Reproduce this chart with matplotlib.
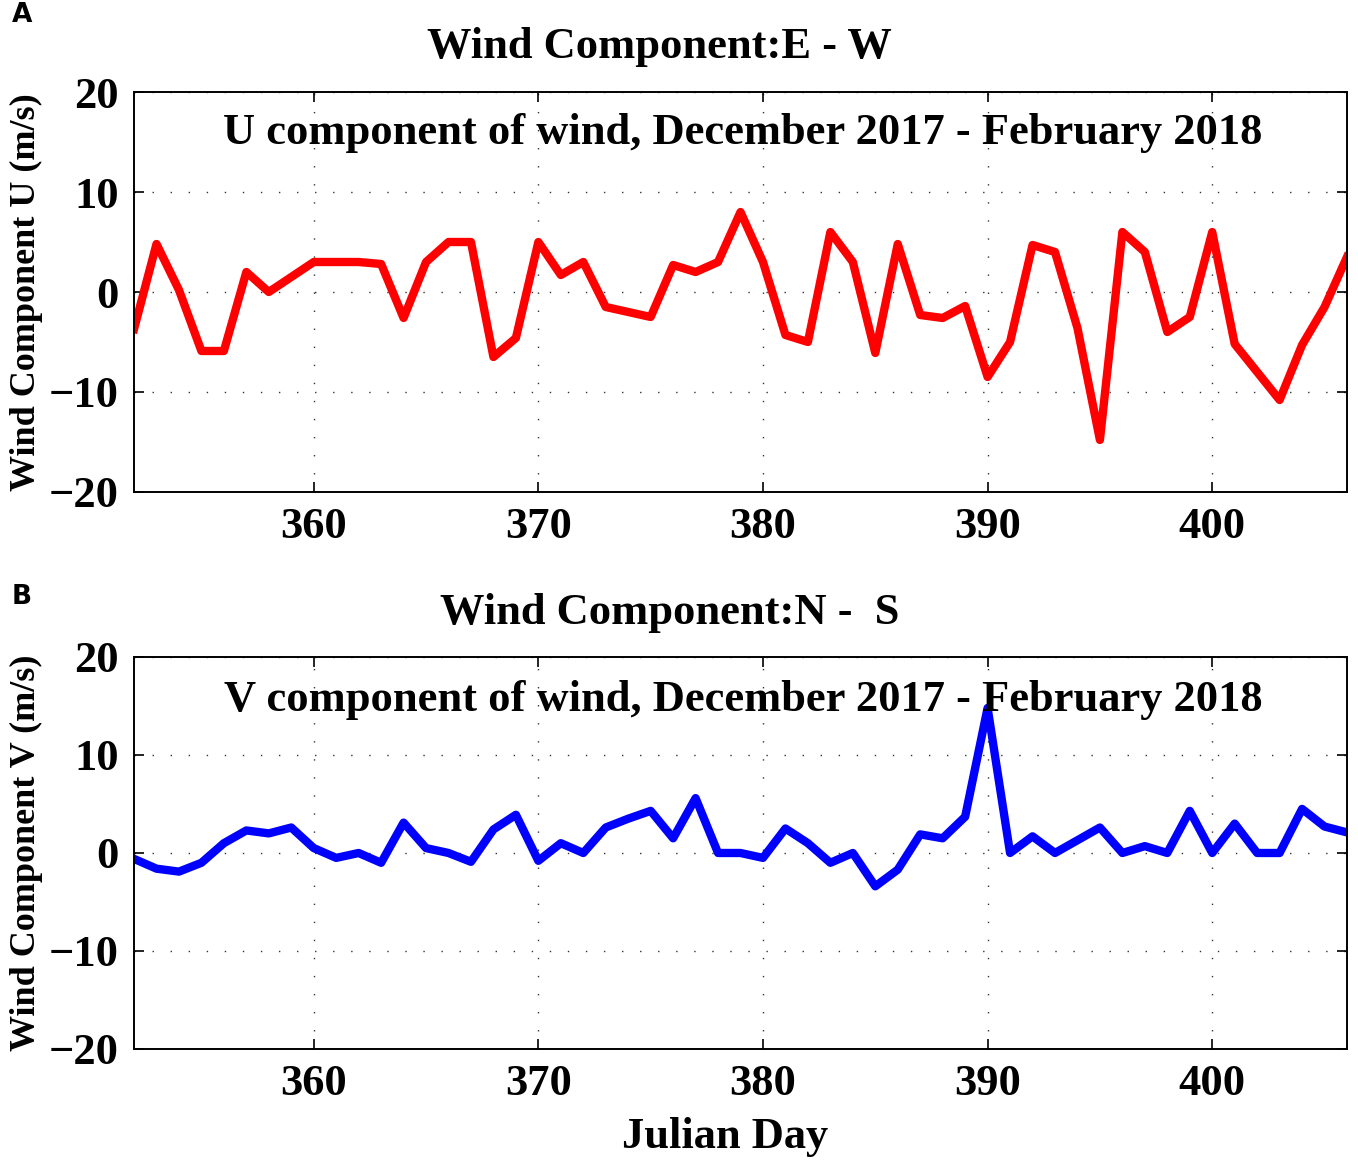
import numpy as np
import matplotlib.pyplot as plt

plt.rcParams['font.family'] = ['Liberation Serif', 'DejaVu Serif']
plt.rcParams['font.weight'] = 'bold'
plt.rcParams['axes.labelweight'] = 'bold'

days = np.arange(352, 407)
u_wind = [-3.7, 4.8, 0.2, -5.9, -5.9, 2.0, 0.0, 1.5, 3.0, 3.0,
          3.0, 2.8, -2.6, 3.0, 5.0, 5.0, -6.5, -4.6, 5.0, 1.7,
          3.0, -1.5, -2.0, -2.5, 2.7, 2.0, 3.0, 8.0, 3.0, -4.3,
          -5.0, 6.0, 3.0, -6.1, 4.8, -2.3, -2.6, -1.4, -8.5, -5.0,
          4.7, 4.0, -3.6, -14.8, 6.0, 4.0, -4.0, -2.5, 6.0, -5.2,
          -8.0, -10.8, -5.3, -1.5, 3.5]
v_wind = [-0.6, -1.6, -1.9, -1.0, 1.0, 2.3, 2.0, 2.6, 0.5, -0.5,
          0.0, -1.0, 3.1, 0.5, 0.0, -0.9, 2.4, 3.9, -0.8, 1.0,
          0.0, 2.6, 3.5, 4.3, 1.5, 5.6, 0.0, 0.0, -0.5, 2.5,
          1.0, -1.0, 0.0, -3.4, -1.7, 1.9, 1.5, 3.7, 14.8, 0.0,
          1.7, 0.0, 1.3, 2.6, 0.0, 0.7, 0.0, 4.3, 0.0, 3.0,
          0.0, 0.0, 4.5, 2.7, 2.1]

x_ticks = [360, 370, 380, 390, 400]
y_ticks = [-20, -10, 0, 10, 20]

fig = plt.figure(figsize=(13.58, 11.68), dpi=100)
ax1 = fig.add_axes([0.0987, 0.5788, 0.8932, 0.3424])
ax2 = fig.add_axes([0.0987, 0.1019, 0.8932, 0.3356])


def style_axes(ax):
    ax.set_xlim(352, 406)
    ax.set_ylim(-20, 20)
    ax.set_xticks(x_ticks)
    ax.set_yticks(y_ticks)
    ax.tick_params(direction='in', length=7, width=1.2, top=True, right=True,
                   labelsize=32, pad=11)
    ax.grid(True, color='black', linestyle=(0, (1, 12)), linewidth=1.0, alpha=0.8)
    for s in ax.spines.values():
        s.set_linewidth(1.4)


ax1.plot(days, u_wind, color='red', linewidth=6)
style_axes(ax1)
ax1.set_ylabel('Wind Component U (m/s)', fontsize=26, labelpad=4)
ax1.text(0.502, 0.8975, 'U component of wind, December 2017 - February 2018',
         transform=ax1.transAxes, ha='center', va='center', fontsize=32)
ax1.text(0.433, 1.112, 'Wind Component:E - W', transform=ax1.transAxes,
         ha='center', va='center', fontsize=32)

ax2.plot(days, v_wind, color='blue', linewidth=6)
style_axes(ax2)
ax2.set_ylabel('Wind Component V (m/s)', fontsize=26, labelpad=4)
ax2.text(0.502, 0.89, 'V component of wind, December 2017 - February 2018',
         transform=ax2.transAxes, ha='center', va='center', fontsize=32)
ax2.text(0.442, 1.112, 'Wind Component:N -  S', transform=ax2.transAxes,
         ha='center', va='center', fontsize=32)
fig.text(0.534, 0.0265, 'Julian Day', fontsize=32, weight='bold',
         ha='center', va='center')

fig.text(0.016, 0.987, 'A', family='DejaVu Sans', fontsize=19, weight='bold',
         ha='center', va='center')
fig.text(0.016, 0.489, 'B', family='DejaVu Sans', fontsize=19, weight='bold',
         ha='center', va='center')

fig.savefig('out.png', dpi=100)
